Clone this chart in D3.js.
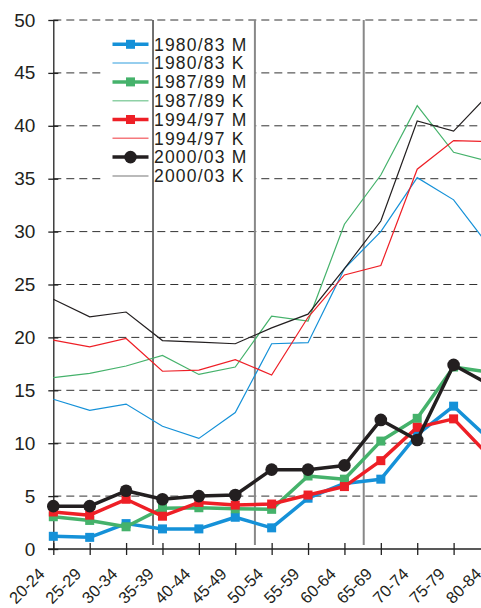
<!DOCTYPE html>
<html>
<head>
<meta charset="utf-8">
<script src="https://d3js.org/d3.v7.min.js"></script>
<style>
  body { margin: 0; background: #fff; }
  svg { display: block; font-family: "Liberation Sans", Arial, sans-serif; }
</style>
</head>
<body>
<div id="chart"></div>
<script>
  // age groups on the x axis
  var ageGroups = ["20-24", "25-29", "30-34", "35-39", "40-44", "45-49", "50-54",
                   "55-59", "60-64", "65-69", "70-74", "75-79", "80-84"];

  // series values
  var m1980 = [1.2, 1.1, 2.4, 1.9, 1.9, 3.0, 2.0, 4.8, 6.2, 6.6, 10.8, 13.5, 10.3];
  var k1980 = [14.15, 13.1, 13.7, 11.6, 10.45, 12.9, 19.4, 19.5, 26.5, 30.0, 35.1, 33.0, 28.5];
  var m1987 = [3.05, 2.7, 2.1, 3.85, 3.9, 3.8, 3.75, 6.9, 6.6, 10.2, 12.35, 17.2, 16.7];
  var k1987 = [16.2, 16.6, 17.3, 18.3, 16.5, 17.2, 22.0, 21.55, 30.7, 35.35, 41.9, 37.5, 36.6];
  var m1994 = [3.5, 3.2, 4.7, 3.1, 4.4, 4.15, 4.25, 5.1, 5.9, 8.35, 11.5, 12.3, 8.7];
  var k1994 = [19.75, 19.1, 19.9, 16.8, 16.9, 17.9, 16.45, 21.9, 25.9, 26.8, 35.9, 38.6, 38.5];
  var m2000 = [4.05, 4.05, 5.5, 4.7, 5.0, 5.1, 7.5, 7.5, 7.9, 12.2, 10.3, 17.4, 15.5];
  var k2000 = [23.6, 21.95, 22.4, 19.7, 19.55, 19.4, 20.9, 22.2, 26.5, 31.0, 40.45, 39.5, 43.1];

  var seriesNames = ["1980/83 M", "1980/83 K", "1987/89 M", "1987/89 K",
                     "1994/97 M", "1994/97 K", "2000/03 M", "2000/03 K"];
  var seriesValues = [m1980, k1980, m1987, k1987, m1994, k1994, m2000, k2000];

  var yTicks = [0, 5, 10, 15, 20, 25, 30, 35, 40, 45, 50];
  // vertical separator lines, as positions in age-group index units
  var separators = [2.74, 5.54, 8.53];

  var colors = {"1980/83": "#1591d8", "1987/89": "#45b26b", "1994/97": "#ee1f26", "2000/03": "#231f20"};

  var width = 481, height = 608;

  var svg = d3.select("#chart").append("svg")
    .attr("width", width)
    .attr("height", height);

  var x = d3.scaleLinear().domain([0, 12]).range([53.3, 490]);
  var y = d3.scaleLinear().domain([0, 50]).range([549, 20]);

  // dashed gridlines
  svg.append("g").selectAll("line")
    .data(yTicks.filter(function(d) { return d > 0; }))
    .join("line")
    .attr("x1", x(0)).attr("x2", width)
    .attr("y1", function(d) { return y(d); })
    .attr("y2", function(d) { return y(d); })
    .attr("stroke", "#333")
    .attr("stroke-width", 1)
    .attr("stroke-dasharray", "8,5");

  // white box behind the legend hides the gridlines
  svg.append("rect")
    .attr("x", 103).attr("y", 32)
    .attr("width", 151).attr("height", 154)
    .attr("fill", "#fff");

  // vertical separators
  svg.append("g").selectAll("line")
    .data(separators)
    .join("line")
    .attr("x1", function(d) { return x(d); })
    .attr("x2", function(d) { return x(d); })
    .attr("y1", y(50)).attr("y2", 545)
    .attr("stroke", function(d, i) { return i == 0 ? "#111" : "#888"; })
    .attr("stroke-width", function(d, i) { return i == 0 ? 1.2 : 2; });

  // y axis
  var yAxis = svg.append("g")
    .attr("transform", "translate(" + x(0) + ",0)")
    .call(d3.axisLeft(y).tickValues(yTicks).tickSize(5).tickSizeOuter(0).tickPadding(13));
  yAxis.select(".domain").attr("stroke", "#222").attr("stroke-width", 1.3);
  yAxis.selectAll(".tick line").attr("x1", 5).attr("x2", -5).attr("stroke", "#222").attr("stroke-width", 1.3);
  yAxis.selectAll(".tick text").attr("font-size", 19).attr("fill", "#231f20")
    .attr("font-family", "Liberation Sans, Arial, sans-serif");

  // x axis
  var xAxis = svg.append("g")
    .attr("transform", "translate(0," + y(0) + ")")
    .call(d3.axisBottom(x).tickValues(d3.range(13)).tickSize(6).tickSizeOuter(0)
      .tickFormat(function(i) { return ageGroups[i]; }));
  xAxis.select(".domain").remove();
  xAxis.append("line").attr("x1", 48).attr("x2", width).attr("stroke", "#222").attr("stroke-width", 1.5);
  xAxis.selectAll(".tick line").attr("y1", -6).attr("y2", 6).attr("stroke", "#222").attr("stroke-width", 1.3);
  xAxis.selectAll(".tick text")
    .attr("font-size", 16.5).attr("fill", "#231f20")
    .attr("font-family", "Liberation Sans, Arial, sans-serif")
    .attr("text-anchor", "end")
    .attr("dy", 0)
    .attr("y", 0)
    .attr("transform", "translate(-8,26) rotate(-45)");

  var line = d3.line()
    .x(function(d, i) { return x(i); })
    .y(function(d) { return y(d); });

  // thin K lines first, then the thick M lines with markers
  seriesNames.forEach(function(name, s) {
    if (name.slice(-1) != "K") return;
    svg.append("path")
      .datum(seriesValues[s])
      .attr("fill", "none")
      .attr("stroke", colors[name.slice(0, 7)])
      .attr("stroke-width", 1.2)
      .attr("d", line);
  });

  seriesNames.forEach(function(name, s) {
    if (name.slice(-1) != "M") return;
    var c = colors[name.slice(0, 7)];
    var g = svg.append("g");
    g.append("path")
      .datum(seriesValues[s])
      .attr("fill", "none")
      .attr("stroke", c)
      .attr("stroke-width", 3.5)
      .attr("stroke-linejoin", "round")
      .attr("d", line);
    if (name.slice(0, 4) == "2000") {
      g.selectAll("circle").data(seriesValues[s]).join("circle")
        .attr("cx", function(d, i) { return x(i); })
        .attr("cy", function(d) { return y(d); })
        .attr("r", 6.3)
        .attr("fill", c);
    } else {
      g.selectAll("rect").data(seriesValues[s]).join("rect")
        .attr("x", function(d, i) { return x(i) - 4.5; })
        .attr("y", function(d) { return y(d) - 4.5; })
        .attr("width", 9).attr("height", 9)
        .attr("fill", c);
    }
  });

  // legend
  var legend = svg.append("g");
  seriesNames.forEach(function(name, i) {
    var c = colors[name.slice(0, 7)];
    var isM = name.slice(-1) == "M";
    var ly = 44.3 + i * 18.8;
    var row = legend.append("g").attr("transform", "translate(0," + ly + ")");
    row.append("line")
      .attr("x1", 112.5).attr("x2", 148.5)
      .attr("stroke", isM ? c : (c == "#231f20" ? "#666" : c))
      .attr("stroke-opacity", isM ? 1 : 0.6)
      .attr("stroke-width", isM ? 3.5 : 1.5);
    if (isM && name.slice(0, 4) == "2000") {
      row.append("circle").attr("cx", 130.5).attr("r", 6.3).attr("fill", c);
    } else if (isM) {
      row.append("rect").attr("x", 126).attr("y", -4.5).attr("width", 9).attr("height", 9).attr("fill", c);
    }
    row.append("text")
      .attr("x", 154).attr("y", 6.3)
      .attr("font-size", 17.5)
      .attr("letter-spacing", 1.2)
      .attr("fill", "#231f20")
      .text(name);
  });
</script>
</body>
</html>
